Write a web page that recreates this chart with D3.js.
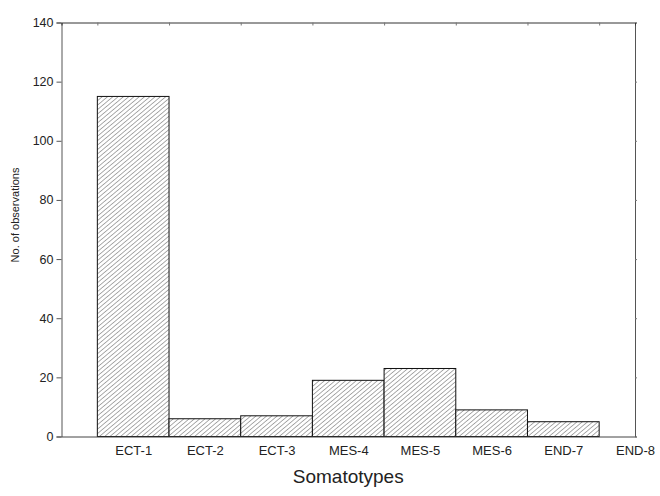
<!DOCTYPE html>
<html><head><meta charset="utf-8">
<script src="https://cdn.jsdelivr.net/npm/d3@7"></script>
<style>body{margin:0;background:#fff;} svg{display:block;font-family:"Liberation Sans",Arial,sans-serif;}</style>
</head><body>
<svg id="c" width="660" height="496"></svg>
<script>
const categories = ["ECT-1","ECT-2","ECT-3","MES-4","MES-5","MES-6","END-7","END-8"];
const counts = [115, 6, 7, 19, 23, 9, 5, 0];
const yTicks = [0, 20, 40, 60, 80, 100, 120, 140];
const xTitle = "Somatotypes";
const yTitle = "No. of observations";

const svg = d3.select("#c");
const L = 61.5, R = 635, T = 22.5, B = 436.5;
const x = d3.scaleLinear().domain([0, categories.length]).range([L, R]);
const y = d3.scaleLinear().domain([0, 140]).range([B, T]);

const defs = svg.append("defs");
const pat = defs.append("pattern").attr("id","hatch").attr("patternUnits","userSpaceOnUse")
  .attr("width",3.4).attr("height",3.4).attr("patternTransform","rotate(50)");
pat.append("rect").attr("width",3.4).attr("height",3.4).attr("fill","#fff");
pat.append("line").attr("x1",0).attr("y1",0).attr("x2",0).attr("y2",3.4)
  .attr("stroke","#333").attr("stroke-width",0.8);

const data = categories.map((c,i)=>({c, v: counts[i], i: i+1}));

svg.append("g").selectAll("rect").data(data.filter(d=>d.v>0)).join("rect")
  .attr("x", d=>x(d.i-0.5)).attr("width", d=>x(d.i+0.5)-x(d.i-0.5))
  .attr("y", d=>y(d.v)).attr("height", d=>y(0)-y(d.v))
  .attr("fill","url(#hatch)").attr("stroke","#111").attr("stroke-width",1);

// left axis
const yl = svg.append("g").attr("transform",`translate(${L},0)`)
  .call(d3.axisLeft(y).tickValues(yTicks).tickSize(5).tickPadding(3));
yl.select(".domain").attr("stroke","#555");
yl.selectAll(".tick line").attr("stroke","#555");
yl.selectAll("text").attr("font-size","12.5px").attr("fill","#222").attr("font-family","Liberation Sans, Arial, sans-serif");

// right axis
const yr = svg.append("g").attr("transform",`translate(${R},0)`)
  .call(d3.axisLeft(y).tickValues(yTicks).tickSize(-2).tickFormat(""));
yr.select(".domain").attr("stroke","#555");
yr.selectAll(".tick line").attr("stroke","#777");

// top axis
const xt = svg.append("g").attr("transform",`translate(0,${T})`)
  .call(d3.axisTop(x).tickValues(d3.range(0.5, categories.length, 1)).tickSize(-3).tickFormat(""));
xt.select(".domain").attr("stroke","#333");
xt.selectAll(".tick line").attr("stroke","#777");

// bottom axis
const xb = svg.append("g").attr("transform",`translate(0,${B})`)
  .call(d3.axisBottom(x).tickValues(d3.range(1, categories.length+1)).tickSize(0).tickPadding(9)
    .tickFormat(d=>categories[d-1]));
xb.select(".domain").attr("stroke","#444");
xb.selectAll("text").attr("font-size","13px").attr("fill","#222").attr("font-family","Liberation Sans, Arial, sans-serif");

svg.append("text").attr("x",(L+R)/2 + 0).attr("y",483).attr("text-anchor","middle")
  .attr("font-size","19px").attr("fill","#222").text(xTitle);
svg.append("text").attr("transform","translate(19,215) rotate(-90)").attr("text-anchor","middle")
  .attr("font-size","11px").attr("fill","#222").text(yTitle);
</script>
</body></html>
